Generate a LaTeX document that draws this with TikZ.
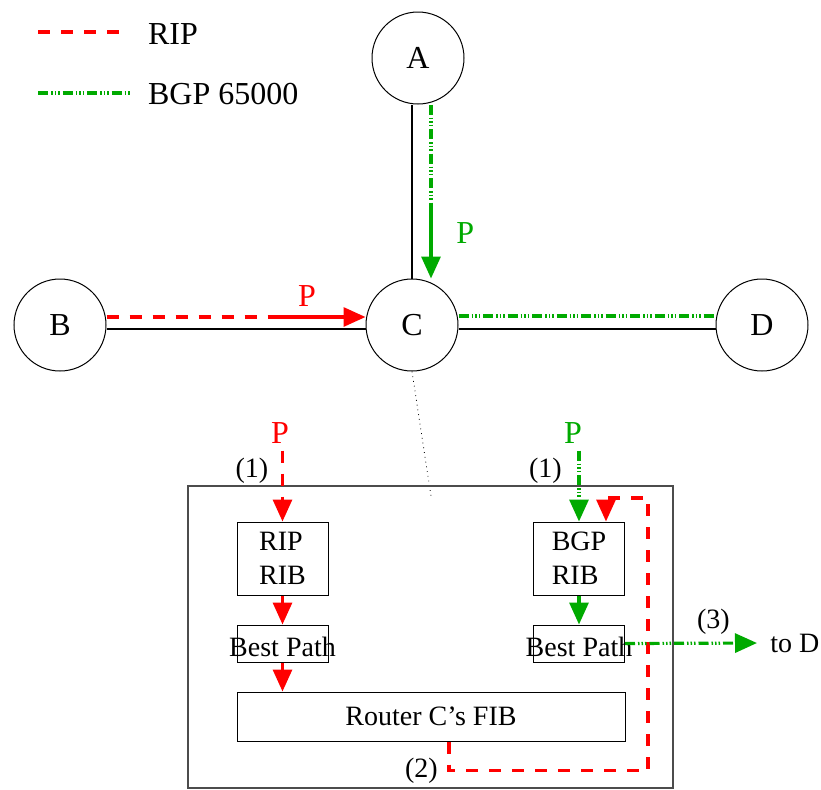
\documentclass[tikz,border=0pt]{standalone}
\usepackage{fontspec}
\setmainfont{Liberation Serif}
\usepackage{xcolor}
\usetikzlibrary{arrows.meta,calc}
\definecolor{bgpgreen}{RGB}{0,170,0}

\begin{document}
\begin{tikzpicture}[x=0.5pt, y=-0.5pt, >={Triangle[length=11pt,width=9.5pt]},
  every node/.style={font=\fontsize{16}{19}\selectfont},
  rnode/.style={circle, draw, line width=0.5pt, minimum size=46pt, inner sep=0pt},
  link/.style={line width=1.4pt},
  rip/.style={red, line width=1.6pt, dash pattern=on 6pt off 5.5pt},
  ripsolid/.style={red, line width=1.6pt},
  bgp/.style={bgpgreen, line width=1.6pt, dash pattern=on 5pt off 1.5pt on 0.75pt off 1pt on 0.75pt off 1pt on 0.75pt off 1.5pt},
  bgpsolid/.style={bgpgreen, line width=1.6pt},
  ribbox/.style={draw, line width=0.5pt, inner sep=0pt, minimum width=45.5pt},
  boxtext/.style={font=\fontsize{14}{17}\selectfont}]

  \useasboundingbox (0,0) rectangle (821,789);

  % --- rows / columns ---
  \def\yrow{325}
  \def\xrip{282.5}
  \def\xbgp{579}

  % ============================================================
  % Legend
  % ============================================================
  \coordinate (ripa) at (38,32);
  \coordinate (ripb) at (123,32);
  \draw[rip] (ripa) -- (ripb);
  \node[anchor=west] (ripkey) at (141,34) {RIP};
  \coordinate (bgpa) at (38,93);
  \coordinate (bgpb) at (130,93);
  \draw[bgp] (bgpa) -- (bgpb);
  \node[anchor=west] (bgpkey) at (141,94) {BGP 65000};

  % ============================================================
  % Routers
  % ============================================================
  \node[rnode] (A) at (418,58) {A};
  \node[rnode] (B) at (60,\yrow) {B};
  \node[rnode] (C) at (412,\yrow) {C};
  \node[rnode] (D) at (762,\yrow) {D};

  % links
  \draw[link] ([yshift=-2pt]B.east) -- ([yshift=-2pt]C.west);
  \draw[link] ([yshift=-2pt]C.east) -- ([yshift=-2pt]D.west);
  \draw[link] (C.north) -- (C.north |- A.south);

  % RIP: B -> C
  \coordinate (ripmid) at (268,317);
  \draw[rip] ([yshift=4pt]B.east) -- (ripmid);
  \draw[ripsolid,->] (ripmid) -- ([yshift=4pt]C.west) node[pos=0.4, above=1pt, red] {P};

  % BGP: A -> C
  \coordinate (bgpmid) at (431,205);
  \draw[bgp] (A.south -| bgpmid) -- (bgpmid);
  \draw[bgpsolid,->] (bgpmid) -- (bgpmid |- C.north) node[pos=0.38, right=8.5pt, bgpgreen] {P};

  % BGP: C - D
  \draw[bgp] ([yshift=4.5pt]C.east) -- ([yshift=4.5pt]D.west);

  % ============================================================
  % Inside router C
  % ============================================================
  \coordinate (zoomC) at (431,496);
  \draw[dotted, line width=0.4pt] (C.south) -- (zoomC);
  \node[draw=black!70, line width=0.6pt, minimum width=242.5pt, minimum height=151pt, inner sep=0pt] (box) at (430.5,637) {};

  \node[ribbox, minimum height=36.5pt, align=left, boxtext] (ripRIB) at (\xrip,558.5) {RIP\\RIB};
  \node[ribbox, minimum height=18.5pt] (ripBest) at (\xrip,643.5) {};
  \node[boxtext, yshift=-1.5pt] (ripBestT) at (ripBest) {Best Path};
  \node[ribbox, minimum height=36.5pt, align=left, boxtext] (bgpRIB) at (\xbgp,558.5) {BGP\\RIB};
  \node[ribbox, minimum height=18.5pt] (bgpBest) at (\xbgp,643.5) {};
  \node[boxtext, yshift=-1.5pt] (bgpBestT) at (bgpBest) {Best Path};
  \node[ribbox, minimum width=194pt, minimum height=24.5pt, boxtext] (FIB) at (431,716.5) {Router C's FIB};

  % RIP side
  \node[red] (ripP) at (280,433) {P};
  \draw[rip,->] (ripRIB.north |- ripP.south) -- (ripRIB.north) node[pos=0.28, left=3pt, black, boxtext] {(1)};
  \draw[ripsolid,->] (ripRIB.south) -- (ripBest.north);
  \draw[ripsolid,->] (ripBest.south) -- (ripBest.south |- FIB.north);

  % BGP side
  \node[bgpgreen] (bgpP) at (573,433) {P};
  \draw[bgp,->] (bgpRIB.north |- bgpP.south) -- (bgpRIB.north) node[pos=0.28, left=4.5pt, black, boxtext] {(1)};
  \draw[bgpsolid,->] (bgpRIB.south) -- (bgpBest.north);

  % (2): FIB -> BGP RIB
  \draw[rip,->] ([xshift=9pt]FIB.south) -- ++(0,29) node[left=1.5pt, black, boxtext] {(2)}
    -| (648,498) -| ([xshift=13.5pt]bgpRIB.north);

  % (3): best path -> D
  \node[boxtext, anchor=west, inner xsep=6.5pt] (toD) at (757,643) {to D};
  \draw[bgp,->] (bgpBest.east) -- (toD.west) node[pos=0.67, above, black, boxtext] {(3)};

\end{tikzpicture}
\end{document}
